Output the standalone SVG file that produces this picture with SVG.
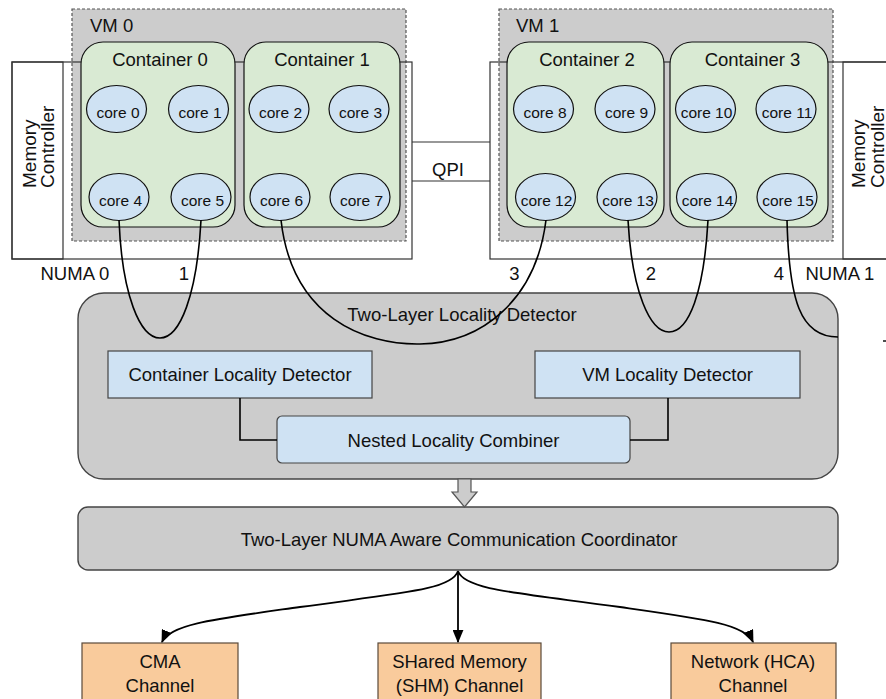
<svg xmlns="http://www.w3.org/2000/svg" width="886" height="699" viewBox="0 0 886 699">
  <style>
    text { font-family: "Liberation Sans", Arial, sans-serif; fill: #111; }
    .lbl { font-size: 18.5px; }
    .mid { text-anchor: middle; }
    .mc { font-size: 19px; }
    .core-t { font-size: 15.5px; text-anchor: middle; }
    .numa { fill: none; stroke: #333; stroke-width: 1.2; }
    .mcbox { fill: #fff; stroke: #333; stroke-width: 1.2; }
    .vm { fill: #cccccc; stroke: #555; stroke-width: 1.2; stroke-dasharray: 3 2; }
    .cont { fill: #d9ead3; stroke: #111; stroke-width: 1.2; }
    .core { fill: #cfe2f3; stroke: #111; stroke-width: 1.2; }
    .gray { fill: #cccccc; stroke: #444; stroke-width: 1.4; }
    .blue { fill: #cfe2f3; stroke: #444; stroke-width: 1.2; }
    .chan { fill: #f9cb9c; stroke: #5a4a3a; stroke-width: 1.2; }
    .wire { fill: none; stroke: #000; stroke-width: 1.6; }
    .link { fill: none; stroke: #000; stroke-width: 1.8; }
  </style>
  <defs>
    <marker id="arr" viewBox="0 0 12 10" refX="11" refY="5" markerWidth="13" markerHeight="11" markerUnits="userSpaceOnUse" orient="auto">
      <path d="M0,0 L12,5 L0,10 z" fill="#000"/>
    </marker>
  </defs>

  <!-- memory controller panels -->
  <g id="mc0">
    <rect class="mcbox" x="12" y="62" width="51" height="197"/>
    <text class="mc" transform="translate(36,188) rotate(-90)">Memory</text>
    <text class="mc" transform="translate(54,188) rotate(-90)">Controller</text>
  </g>
  <g id="mc1">
    <rect class="mcbox" x="843" y="62" width="60" height="197"/>
    <text class="mc" transform="translate(865,188) rotate(-90)">Memory</text>
    <text class="mc" transform="translate(883.5,188) rotate(-90)">Controller</text>
  </g>

  <!-- virtual machines -->
  <g id="vm0">
    <rect class="vm" x="72" y="9" width="334" height="232"/>
    <text class="lbl" x="90" y="32">VM 0</text>
  </g>
  <g id="vm1">
    <rect class="vm" x="499" y="9" width="334" height="232"/>
    <text class="lbl" x="516" y="32">VM 1</text>
  </g>

  <!-- NUMA node outlines -->
  <g id="numa0">
    <rect class="numa" x="12" y="62" width="400" height="197"/>
    <text class="lbl" x="40.5" y="280">NUMA 0</text>
  </g>
  <g id="numa1">
    <rect class="numa" x="490" y="62" width="420" height="197"/>
    <text class="lbl" x="805.5" y="280">NUMA 1</text>
  </g>

  <!-- QPI link -->
  <g id="qpi">
    <line x1="412" y1="142" x2="490" y2="142" stroke="#333" stroke-width="1.2"/>
    <line x1="412" y1="181" x2="490" y2="181" stroke="#333" stroke-width="1.2"/>
    <text class="lbl mid" x="448" y="176">QPI</text>
  </g>

  <!-- containers -->
  <g id="container0">
    <rect class="cont" x="81" y="42" width="154" height="185" rx="22"/>
    <text class="lbl mid" x="160" y="66">Container 0</text>
  </g>
  <g id="container1">
    <rect class="cont" x="244" y="42" width="156" height="185" rx="22"/>
    <text class="lbl mid" x="322" y="66">Container 1</text>
  </g>
  <g id="container2">
    <rect class="cont" x="507" y="42" width="157" height="185" rx="22"/>
    <text class="lbl mid" x="587" y="66">Container 2</text>
  </g>
  <g id="container3">
    <rect class="cont" x="670" y="42" width="158" height="185" rx="22"/>
    <text class="lbl mid" x="752.5" y="66">Container 3</text>
  </g>

  <!-- cores -->
  <g id="core0"><ellipse class="core" cx="116.5" cy="109" rx="30" ry="23.5"/><text class="core-t" x="118" y="118">core 0</text></g>
  <g id="core1"><ellipse class="core" cx="198.5" cy="109" rx="30" ry="23.5"/><text class="core-t" x="200" y="118">core 1</text></g>
  <g id="core4"><ellipse class="core" cx="119" cy="197" rx="30" ry="23.5"/><text class="core-t" x="120.5" y="206">core 4</text></g>
  <g id="core5"><ellipse class="core" cx="201" cy="197" rx="30" ry="23.5"/><text class="core-t" x="202.5" y="206">core 5</text></g>

  <g id="core2"><ellipse class="core" cx="279" cy="109" rx="30" ry="23.5"/><text class="core-t" x="280.5" y="118">core 2</text></g>
  <g id="core3"><ellipse class="core" cx="359" cy="109" rx="30" ry="23.5"/><text class="core-t" x="360.5" y="118">core 3</text></g>
  <g id="core6"><ellipse class="core" cx="280" cy="197" rx="30" ry="23.5"/><text class="core-t" x="281.5" y="206">core 6</text></g>
  <g id="core7"><ellipse class="core" cx="360" cy="197" rx="30" ry="23.5"/><text class="core-t" x="361.5" y="206">core 7</text></g>

  <g id="core8"><ellipse class="core" cx="543.5" cy="109" rx="30" ry="23.5"/><text class="core-t" x="545" y="118">core 8</text></g>
  <g id="core9"><ellipse class="core" cx="625" cy="109" rx="30" ry="23.5"/><text class="core-t" x="626.5" y="118">core 9</text></g>
  <g id="core12"><ellipse class="core" cx="545.5" cy="197" rx="30" ry="23.5"/><text class="core-t" x="546.5" y="206">core 12</text></g>
  <g id="core13"><ellipse class="core" cx="627" cy="197" rx="30" ry="23.5"/><text class="core-t" x="628" y="206">core 13</text></g>

  <g id="core10"><ellipse class="core" cx="705.5" cy="109" rx="30" ry="23.5"/><text class="core-t" x="706.5" y="118">core 10</text></g>
  <g id="core11"><ellipse class="core" cx="786" cy="109" rx="30" ry="23.5"/><text class="core-t" x="787" y="118">core 11</text></g>
  <g id="core14"><ellipse class="core" cx="706.5" cy="197" rx="30" ry="23.5"/><text class="core-t" x="707.5" y="206">core 14</text></g>
  <g id="core15"><ellipse class="core" cx="787" cy="197" rx="30" ry="23.5"/><text class="core-t" x="788" y="206">core 15</text></g>

  <!-- locality detector -->
  <g id="detector">
    <rect class="gray" x="78" y="293" width="760" height="186" rx="26"/>
    <text class="lbl mid" x="462" y="321">Two-Layer Locality Detector</text>
  </g>
  <g id="container-detector">
    <rect class="blue" x="108" y="351" width="264" height="47"/>
    <text class="lbl mid" x="240" y="381">Container Locality Detector</text>
  </g>
  <g id="vm-detector">
    <rect class="blue" x="535" y="351" width="265" height="47"/>
    <text class="lbl mid" x="667.5" y="381">VM Locality Detector</text>
  </g>
  <g id="combiner">
    <rect class="blue" x="277" y="416" width="353" height="47" rx="5"/>
    <text class="lbl mid" x="453.5" y="447">Nested Locality Combiner</text>
  </g>

  <!-- coordinator -->
  <g id="coordinator">
    <rect class="gray" x="78" y="507" width="760" height="63" rx="10"/>
    <text class="lbl mid" x="459" y="546">Two-Layer NUMA Aware Communication Coordinator</text>
  </g>

  <!-- channels -->
  <g id="cma">
    <rect class="chan" x="82" y="643" width="156" height="70"/>
    <text class="lbl mid" x="160" y="668">CMA</text>
    <text class="lbl mid" x="160" y="692">Channel</text>
  </g>
  <g id="shm">
    <rect class="chan" x="378" y="643" width="163" height="70"/>
    <text class="lbl mid" x="459.5" y="668">SHared Memory</text>
    <text class="lbl mid" x="459.5" y="692">(SHM) Channel</text>
  </g>
  <g id="hca">
    <rect class="chan" x="671" y="643" width="165" height="70"/>
    <text class="lbl mid" x="753" y="668">Network (HCA)</text>
    <text class="lbl mid" x="753" y="692">Channel</text>
  </g>

  <!-- connectors -->
  <g id="connectors">
    <!-- core pair links -->
    <path class="wire" d="M119,220 C122,295 140,338 160,338 C180,338 197,295 201,220"/>
    <path class="wire" d="M281,220 C292,318 365,345 420,344 C482,343 536,300 546,220"/>
    <path class="wire" d="M628,220 C632,292 650,332 669,332 C689,332 704,292 708,220"/>
    <path class="wire" d="M787,220 C789,300 800,337 838,337"/>
    <line x1="883" y1="341" x2="886" y2="341" stroke="#000" stroke-width="1.4"/>
    <text class="lbl mid" x="184" y="280">1</text>
    <text class="lbl mid" x="514.5" y="280">3</text>
    <text class="lbl mid" x="651" y="280">2</text>
    <text class="lbl mid" x="779" y="280">4</text>

    <!-- detector internals -->
    <polyline class="wire" points="240,398 240,440 277,440"/>
    <polyline class="wire" points="668,398 668,440 630,440"/>

    <!-- detector to coordinator -->
    <polygon points="458,479 471,479 471,492 477,492 464.5,507 452,492 458,492" fill="#cccccc" stroke="#555" stroke-width="1.2"/>

    <!-- coordinator to channels -->
    <path class="link" d="M458,571 C452,590 400,593 300,607 C215,619 170,624 162,642" marker-end="url(#arr)"/>
    <path class="link" d="M458,571 L458,642" marker-end="url(#arr)"/>
    <path class="link" d="M458,571 C464,590 520,593 620,607 C705,619 745,624 753,642" marker-end="url(#arr)"/>
  </g>
</svg>
